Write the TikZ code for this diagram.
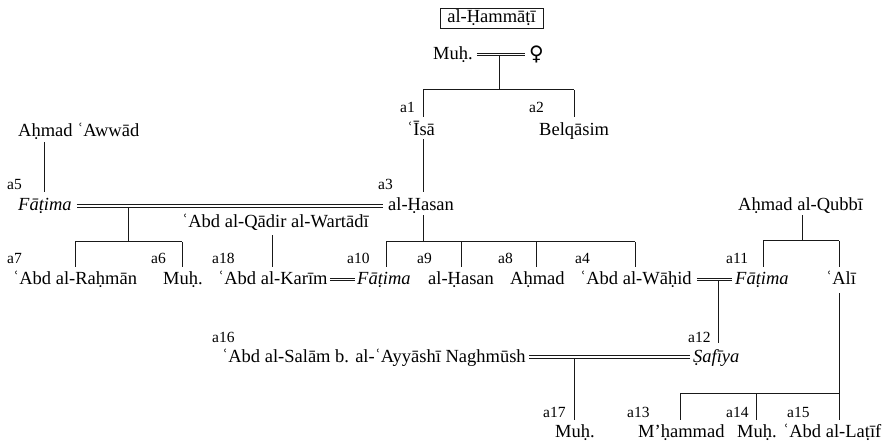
\documentclass[tikz,border=0pt]{standalone}
\usepackage{fontspec}
\setmainfont{Liberation Serif}
\newfontfamily\signfont{DejaVu Sans}
\begin{document}
\begin{tikzpicture}[x=1pt,y=-1pt,
  person/.style={inner sep=0pt, anchor=base west, text height=13pt, text depth=3pt,
                 font=\fontsize{18.5}{21}\selectfont},
  tag/.style={inner sep=0pt, anchor=base west, font=\fontsize{15.5}{18}\selectfont},
  kin/.style={line width=1pt, draw=black!90},
  marriage/.style={draw=black!90, line width=0.85pt, double=white, double distance=1.8pt},
]
\fill[white] (0,0) rectangle (891,446);
\useasboundingbox (0,0) rectangle (891,446);

% family name
\node[draw=black!90, line width=0.9pt, minimum width=103pt, minimum height=20pt,
      inner sep=0pt, font=\fontsize{18.5}{21}\selectfont] (clan) at (491.5,18) {al-Ḥammāṭī};

% generation 0
\node[person] (muhA) at (433,59.5) {Muḥ.};
\node[person, font=\signfont\fontsize{20}{22}\selectfont] (venus) at (529,61) {♀};

% generation 1
\node[tag] (t1) at (400,113) {a1};
\node[tag] (t2) at (529,113) {a2};
\node[person] (isa) at (407,136) {ʿĪsā};
\node[person] (belq) at (539,136) {Belqāsim};
\node[person] (awwad) at (18,137) {Aḥmad ʿAwwād};

% generation 2
\node[tag] (t5) at (7,190) {a5};
\node[tag] (t3) at (378,190) {a3};
\node[person] (fatA) at (18,211) {\itshape Fāṭima};
\node[person] (hasanA) at (388,211) {al-Ḥasan};
\node[person] (qubbi) at (738,211) {Aḥmad al-Qubbī};
\node[person] (wartadi) at (182,228) {ʿAbd al-Qādir al-Wartādī};

% generation 3
\node[tag] (t7) at (7,264) {a7};
\node[tag] (t6) at (151,264) {a6};
\node[tag] (t18) at (212,264) {a18};
\node[tag] (t10) at (347,264) {a10};
\node[tag] (t9) at (417,264) {a9};
\node[tag] (t8) at (498,264) {a8};
\node[tag] (t4) at (575,264) {a4};
\node[tag] (t11) at (726,264) {a11};
\node[person] (rahman) at (13,284.5) {ʿAbd al-Raḥmān};
\node[person] (muhB) at (163,284.5) {Muḥ.};
\node[person] (karim) at (218,284.5) {ʿAbd al-Karīm};
\node[person] (fatB) at (357,284.5) {\itshape Fāṭima};
\node[person] (hasanB) at (428,284.5) {al-Ḥasan};
\node[person] (ahmadB) at (510,284.5) {Aḥmad};
\node[person] (wahid) at (580,284.5) {ʿAbd al-Wāḥid};
\node[person] (fatC) at (735,284.5) {\itshape Fāṭima};
\node[person] (ali) at (826,284.5) {ʿAlī};

% generation 4
\node[tag] (t16) at (212,342) {a16};
\node[tag] (t12) at (688,342) {a12};
\node[person] (salam) at (222,362) {ʿAbd al-Salām b. al-ʿAyyāshī Naghmūsh};
\node[person] (safiya) at (693,362) {\itshape Ṣafīya};

% generation 5
\node[tag] (t17) at (543,417) {a17};
\node[tag] (t13) at (627,417) {a13};
\node[tag] (t14) at (726,417) {a14};
\node[tag] (t15) at (787,417) {a15};
\node[person] (muhC) at (555,437) {Muḥ.};
\node[person] (mham) at (638,437) {M’ḥammad};
\node[person] (muhD) at (737,437) {Muḥ.};
\node[person] (latif) at (783,437) {ʿAbd al-Laṭīf};

% x positions of descent lines
\coordinate (xM0) at (499,0);
\coordinate (xAww) at (44,0);
\coordinate (xM1) at (128,0);
\coordinate (xKar) at (272,0);
\coordinate (xHasB) at (461,0);
\coordinate (xAhmB) at (536,0);
\coordinate (xQub) at (802,0);
\coordinate (xM3) at (718,0);
\coordinate (xM4) at (574,0);
\coordinate (xMuhD) at (756,0);

% sibling bars
\coordinate (b0L) at (423,90);  \coordinate (b0R) at (574,90);
\coordinate (b1L) at (75,242);  \coordinate (b1R) at (182,242);
\coordinate (b2L) at (386,242); \coordinate (b2R) at (635,242);
\coordinate (b3L) at (763,241); \coordinate (b3R) at (839,241);
\coordinate (b4L) at (680,393); \coordinate (b4R) at (839,393);

% children of Muh.
\draw[kin] (xM0 |- muhA.east) -- (xM0 |- b0L);
\draw[kin] (b0L) -- (b0R);
\draw[kin, shorten >=6pt] (b0L) -- (b0L |- isa.north);
\draw[kin, shorten >=6pt] (b0R) -- (b0R |- belq.north);

% lines of descent to generation 2
\draw[kin, shorten >=6pt] (b0L |- isa.south) -- (b0L |- hasanA.north);
\draw[kin, shorten <=2pt, shorten >=6pt] (xAww |- awwad.south) -- (xAww |- fatA.north);

% children of Fatima and al-Hasan
\draw[kin] (xM1 |- fatA.east) -- (xM1 |- b1L);
\draw[kin] (b1L) -- (b1R);
\draw[kin, shorten >=4pt] (b1L) -- (b1L |- rahman.north);
\draw[kin, shorten >=4pt] (b1R) -- (b1R |- muhB.north);

% son of al-Wartadi
\draw[kin, shorten <=4pt, shorten >=4pt] (xKar |- wartadi.south) -- (xKar |- karim.north);

% children of al-Hasan
\draw[kin, shorten <=1pt] (b0L |- hasanA.south) -- (b0L |- b2L);
\draw[kin] (b2L) -- (b2R);
\draw[kin, shorten >=4pt] (b2L) -- (b2L |- fatB.north);
\draw[kin, shorten >=4pt] (xHasB |- b2L) -- (xHasB |- hasanB.north);
\draw[kin, shorten >=4pt] (xAhmB |- b2L) -- (xAhmB |- ahmadB.north);
\draw[kin, shorten >=4pt] (b2R) -- (b2R |- wahid.north);

% children of al-Qubbi
\draw[kin, shorten <=1pt] (xQub |- qubbi.south) -- (xQub |- b3L);
\draw[kin] (b3L) -- (b3R);
\draw[kin, shorten >=4pt] (b3L) -- (b3L |- fatC.north);
\draw[kin, shorten >=4pt] (b3R) -- (b3R |- ali.north);

% daughter of Abd al-Wahid and Fatima
\draw[kin, shorten >=6pt] (xM3 |- wahid.east) -- (xM3 |- safiya.north);

% son of Naghmush and Safiya
\draw[kin, shorten >=4pt] (xM4 |- salam.east) -- (xM4 |- muhC.north);

% children of Ali
\draw[kin, shorten <=5.5pt, shorten >=4pt] (b3R |- ali.south) -- (b3R |- latif.north);
\draw[kin] (b4L) -- (b4R);
\draw[kin, shorten >=4pt] (b4L) -- (b4L |- mham.north);
\draw[kin, shorten >=4pt] (xMuhD |- b4L) -- (xMuhD |- muhD.north);

% marriages
\draw[marriage, shorten <=4pt, shorten >=4pt] (muhA.east) -- (muhA.east -| venus.west);
\draw[marriage, shorten <=5pt, shorten >=5pt] (fatA.east) -- (hasanA.west);
\draw[marriage, shorten <=2pt, shorten >=2pt] (karim.east) -- (fatB.west);
\draw[marriage, shorten <=5pt, shorten >=3pt] (wahid.east) -- (fatC.west);
\draw[marriage, shorten <=3pt, shorten >=3pt] (salam.east) -- (safiya.west);
\end{tikzpicture}
\end{document}
